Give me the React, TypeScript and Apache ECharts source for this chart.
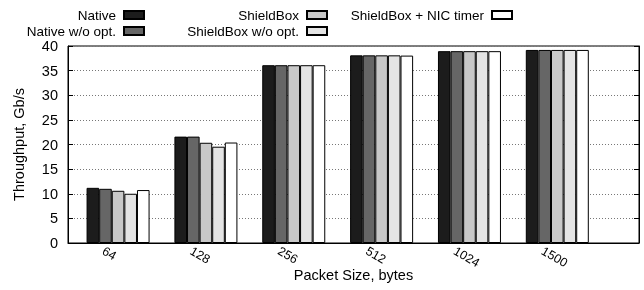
import React, { useEffect, useRef } from 'react';
import * as echarts from 'echarts';

const categories = ['64', '128', '256', '512', '1024', '1500'];
const seriesNames = ['Native', 'Native w/o opt.', 'ShieldBox', 'ShieldBox w/o opt.', 'ShieldBox + NIC timer'];
const native = [11.2, 21.6, 36.1, 38.1, 38.95, 39.2];
const nativeNoOpt = [11.0, 21.6, 36.1, 38.1, 38.95, 39.2];
const shieldBox = [10.6, 20.35, 36.1, 38.1, 38.95, 39.2];
const shieldBoxNoOpt = [10.0, 19.55, 36.1, 38.1, 38.95, 39.2];
const shieldBoxNic = [10.75, 20.4, 36.1, 38.05, 38.95, 39.2];
const colors = ['#1c1c1c', '#666666', '#c8c8c8', '#e4e4e4', '#ffffff'];

const FONT = '"Liberation Sans", Arial, Helvetica, sans-serif';
const LABEL_SHIFT = 0.17;

export default function App() {
  const ref = useRef<HTMLDivElement>(null);
  useEffect(() => {
    if (!ref.current) return;
    const chart = echarts.init(ref.current, undefined, { renderer: 'svg' });
    const allValues = [native, nativeNoOpt, shieldBox, shieldBoxNoOpt, shieldBoxNic];
    const legendBase = {
      orient: 'vertical' as const,
      align: 'right' as const,
      top: 8,
      itemWidth: 20,
      itemHeight: 8,
      itemGap: 2,
      padding: 0,
      icon: 'rect',
      textStyle: { fontSize: 13.5, fontFamily: FONT, color: '#000', padding: [0, 3, 0, 0] },
    };
    chart.setOption({
      animation: false,
      textStyle: { fontFamily: FONT },
      legend: [
        { ...legendBase, data: [seriesNames[0], seriesNames[1]], right: 499 },
        { ...legendBase, data: [seriesNames[2], seriesNames[3]], right: 316 },
        { ...legendBase, data: [seriesNames[4]], right: 131 },
      ],
      grid: {
        left: 68, right: 5, top: 46, bottom: 47,
        outerBoundsMode: 'none',
        containLabel: false,
        show: true, borderColor: '#000', borderWidth: 1,
      },
      xAxis: {
        type: 'value',
        min: -0.57,
        max: 5.93,
        name: 'Packet Size, bytes',
        nameLocation: 'middle',
        nameGap: 24,
        nameMoveOverlap: false,
        nameTextStyle: { fontSize: 14.5, color: '#000', fontFamily: FONT },
        axisLine: { show: true, onZero: false, lineStyle: { color: '#000', width: 1 } },
        axisTick: { show: false },
        splitLine: { show: false },
        axisLabel: {
          customValues: categories.map((_, i) => i - LABEL_SHIFT),
          formatter: (v: number) => categories[Math.round(v + LABEL_SHIFT)] ?? '',
          rotate: -30,
          align: 'left',
          verticalAlign: 'middle',
          fontSize: 12.5,
          color: '#000',
          margin: 7,
        },
      },
      yAxis: [
        {
          type: 'value',
          min: 0,
          max: 40,
          interval: 5,
          name: 'Throughput, Gb/s',
          nameLocation: 'middle',
          nameGap: 42,
          nameMoveOverlap: false,
          nameTextStyle: { fontSize: 14.5, color: '#000', fontFamily: FONT },
          axisLine: { show: true, onZero: false, lineStyle: { color: '#000', width: 1 } },
          axisTick: { show: true, inside: true, length: 5, lineStyle: { color: '#000' } },
          axisLabel: { fontSize: 14.5, color: '#000', margin: 10 },
          splitLine: { show: true, lineStyle: { type: [1, 2], color: '#777', width: 1 } },
        },
        {
          type: 'value',
          min: 0,
          max: 40,
          interval: 5,
          position: 'right',
          axisLine: { show: true, onZero: false, lineStyle: { color: '#000', width: 1 } },
          axisTick: { show: true, inside: true, length: 5, lineStyle: { color: '#000' } },
          axisLabel: { show: false },
          splitLine: { show: false },
        },
      ],
      series: allValues.map((vals, s) => ({
        type: 'bar',
        name: seriesNames[s],
        barWidth: 12.6,
        barGap: '0%',
        itemStyle: { color: colors[s], borderColor: '#000', borderWidth: 1 },
        data: vals.map((v, i) => [i, v]),
      })),
    });
    return () => chart.dispose();
  }, []);
  return <div ref={ref} style={{ position: 'fixed', left: 0, top: 0, width: 644, height: 290 }} />;
}
